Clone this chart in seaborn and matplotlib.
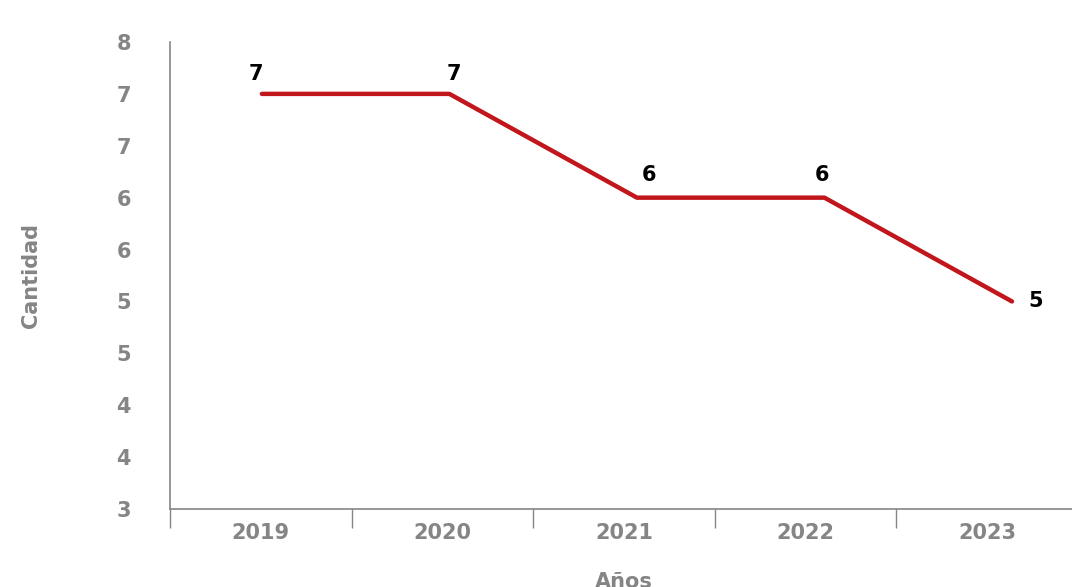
import numpy as np
import pandas as pd
import matplotlib
matplotlib.use("Agg")
import matplotlib.pyplot as plt
import seaborn as sns

# data
years = ["2019", "2020", "2021", "2022", "2023"]
cantidad = [7, 7, 6, 6, 5]

sns.set_theme(style="white")
plt.rcParams['font.family'] = ['DejaVu Sans']
plt.rcParams['font.weight'] = 'bold'

grey = "#858585"
red = "#C0161C"

df = pd.DataFrame({"idx": range(len(years)), "Cantidad": cantidad})

fig = plt.figure(figsize=(10.72, 5.87), dpi=100)
ax = fig.add_axes([170 / 1072, 78 / 587, 908 / 1072, 467 / 587])

# category axis (ticks between categories, labels in the middle)
ax.set_xlim(-0.5, len(years) - 0.5)
ax.set_xticks(np.arange(-0.5, len(years), 1.0))
ax.set_xticklabels([])
ax.set_xticks(range(len(years)), minor=True)
ax.set_xticklabels(years, minor=True)
ax.tick_params(axis="x", which="major", length=14, width=1, color=grey, direction="out")
ax.tick_params(axis="x", which="minor", length=0, pad=10, labelsize=15, labelcolor=grey)

ax.set_ylim(3, 7.5)
ax.set_yticks(np.arange(3, 7.51, 0.5))
ax.yaxis.set_major_formatter(plt.FuncFormatter(lambda v, p: str(int(np.floor(v + 0.5)))))
ax.tick_params(axis="y", length=7, width=1, color=grey, direction="out", pad=21,
               labelsize=15, labelcolor=grey)

for s in ["top", "right"]:
    ax.spines[s].set_visible(False)
for s in ["left", "bottom"]:
    ax.spines[s].set_color(grey)
    ax.spines[s].set_linewidth(1.2)

ax.set_ylabel("Cantidad", fontsize=15, color=grey, fontweight="bold", labelpad=54)
ax.set_xlabel("Años", fontsize=15, color=grey, fontweight="bold", labelpad=21)

# line series drawn on its own x scale
ax2 = ax.twiny()
sns.lineplot(data=df, x="idx", y="Cantidad", ax=ax2, color=red, linewidth=3.2)
ax2.set_xlim(-0.49, 4.352)
ax2.set_ylim(3, 7.5)
ax2.axis("off")

offsets = [(-4, 14), (3, 14), (9, 16), (-2, 16), (17, 0)]
for i, (v, off) in enumerate(zip(cantidad, offsets)):
    ax2.annotate(str(v), (i, v), xytext=off, textcoords="offset points",
                 ha="center", va="center", fontsize=15, fontweight="bold", color="black")

fig.savefig("out.png", dpi=100)
